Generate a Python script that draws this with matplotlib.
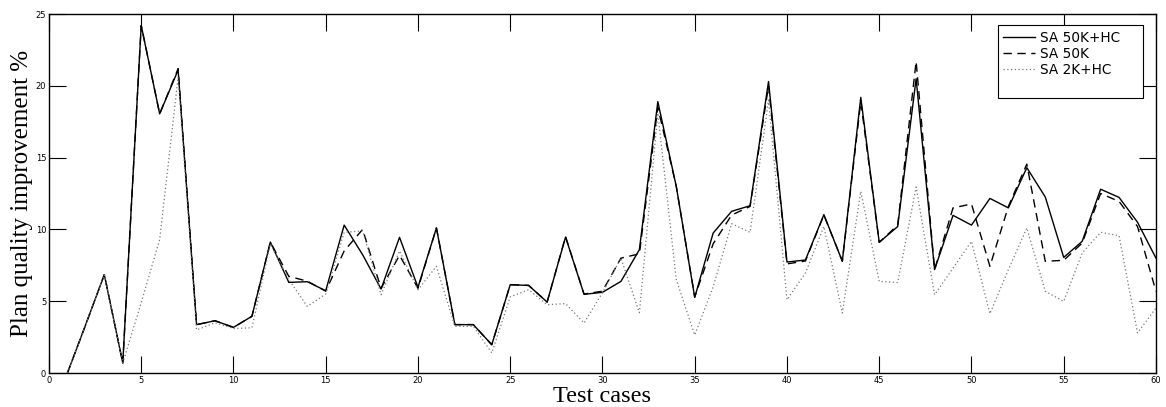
import matplotlib.pyplot as plt
from matplotlib.lines import Line2D
import numpy as np

cases = np.arange(1, 61)

sa50k_hc = [0.0, 3.4, 6.85, 0.7, 24.2, 18.05, 21.1, 3.37, 3.64, 3.18,
            3.95, 9.12, 6.31, 6.36, 5.73, 10.3, 8.24, 5.85, 9.45, 5.97,
            10.1, 3.37, 3.37, 1.97, 6.15, 6.1, 4.94, 9.47, 5.48, 5.62,
            6.38, 8.59, 18.9, 13.0, 5.27, 9.75, 11.26, 11.65, 20.3, 7.73,
            7.87, 11.03, 7.78, 19.2, 9.1, 10.2, 20.5, 7.2, 10.98, 10.3,
            12.16, 11.5, 14.3, 12.26, 8.05, 9.17, 12.8, 12.23, 10.5, 8.0]

sa50k = [0.0, 3.4, 6.85, 0.7, 24.2, 18.05, 21.2, 3.37, 3.64, 3.18,
         3.95, 9.12, 6.73, 6.4, 5.7, 8.5, 10.0, 5.9, 8.2, 5.9,
         10.1, 3.37, 3.37, 1.97, 6.15, 6.1, 4.94, 9.5, 5.5, 5.7,
         8.0, 8.3, 18.5, 13.0, 5.3, 9.0, 11.0, 11.6, 20.0, 7.6,
         7.8, 11.0, 7.8, 18.9, 9.1, 10.3, 21.7, 7.2, 11.5, 11.77,
         7.43, 11.6, 14.55, 7.78, 7.85, 9.05, 12.5, 11.95, 10.2, 5.69]

sa2k_hc = [0.0, 3.4, 6.85, 0.7, 4.9, 9.3, 20.6, 3.0, 3.5, 3.1,
           3.15, 9.0, 6.5, 4.64, 5.5, 9.8, 9.9, 5.45, 8.5, 5.8,
           7.43, 3.25, 3.25, 1.4, 5.3, 5.8, 4.76, 4.83, 3.48, 5.6,
           8.0, 4.2, 18.1, 6.5, 2.65, 6.0, 10.4, 9.8, 19.0, 5.1,
           6.96, 10.2, 4.18, 12.65, 6.38, 6.3, 12.95, 5.45, 7.3, 9.17,
           4.13, 7.2, 10.1, 5.69, 4.99, 8.36, 9.8, 9.56, 2.79, 4.53]

fig = plt.figure(figsize=(11.66, 4.07), dpi=100)
ax = fig.add_axes([0.042, 0.0835, 0.9494, 0.882])

ax.plot(cases, sa50k_hc, color='black', lw=1.0, label='SA 50K+HC')
ax.plot(cases, sa50k, color='black', lw=1.0, ls=(0, (6, 4)), label='SA 50K')
ax.plot(cases, sa2k_hc, color='#777777', lw=0.9, ls=(0, (1, 2)), label='SA 2K+HC')

ax.set_xlim(0, 60)
ax.set_ylim(0, 25)
ax.set_xticks(np.arange(0, 61, 5))
ax.set_yticks(np.arange(0, 26, 5))
ax.tick_params(direction='in', length=12, width=0.8, top=True, right=True,
               labelsize=6, pad=2, colors='black')
for s in ax.spines.values():
    s.set_linewidth(1.0)

ax.set_xlabel('Test cases', family='Liberation Serif', fontsize=17.5, labelpad=1)
ax.set_ylabel('Plan quality improvement %', family='Liberation Serif', fontsize=18, labelpad=2)

# blank last row keeps some empty room at the bottom of the legend box
handles, labels = ax.get_legend_handles_labels()
handles.append(Line2D([], [], ls='none'))
labels.append(' ')
leg = ax.legend(handles, labels, loc='upper left', bbox_to_anchor=(0.857, 0.5, 0.131, 0.469),
                mode='expand', borderaxespad=0, fancybox=False, edgecolor='black',
                framealpha=1, fontsize=9.8, handlelength=2.35, handletextpad=0.35,
                labelspacing=0.15, borderpad=0.4)
leg.get_frame().set_linewidth(0.8)

fig.savefig('out.png', dpi=100)
